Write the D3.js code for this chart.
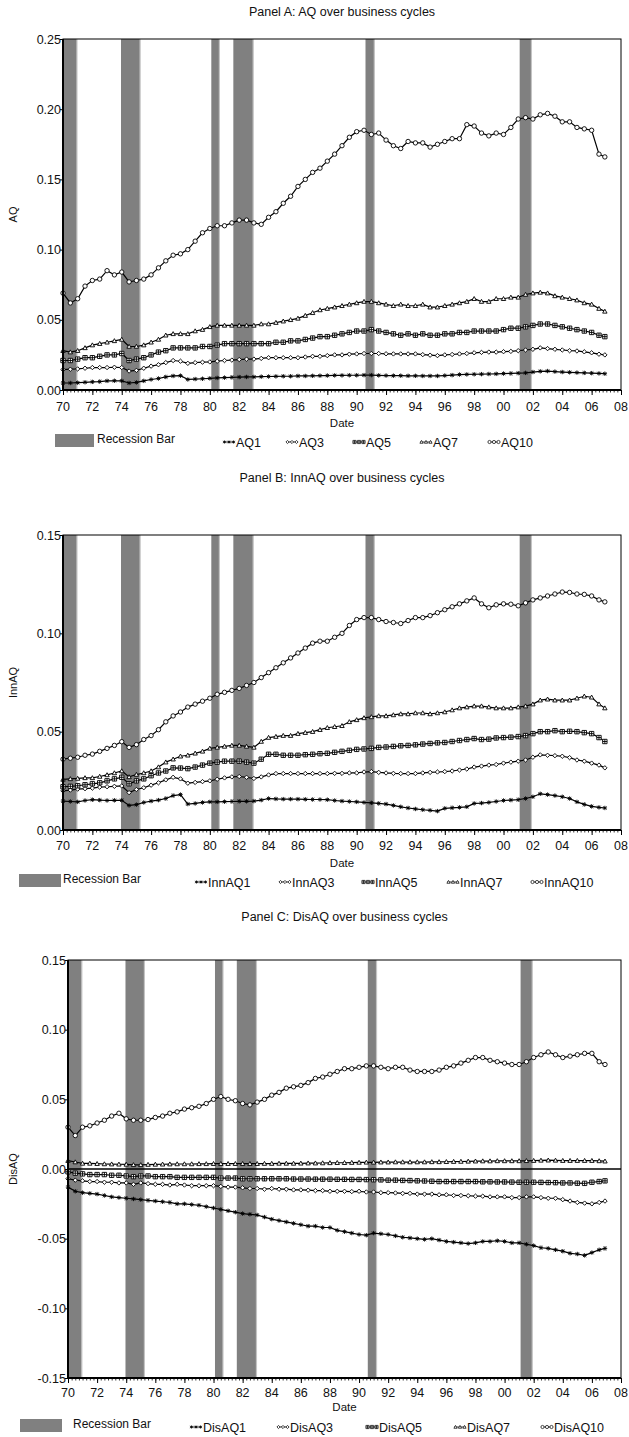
<!DOCTYPE html>
<html>
<head>
<meta charset="utf-8">
<script src="https://cdn.jsdelivr.net/npm/d3@7"></script>
<style>
  html, body { margin: 0; padding: 0; background: #fff; }
  svg text { font-family: "Liberation Sans", Arial, sans-serif; fill: #111; }
</style>
</head>
<body>
<svg id="chart" width="629" height="1437"></svg>
<script>
// ---------------- DATA ----------------
const dates = [1970,1970.5,1971,1971.5,1972,1972.5,1973,1973.5,1974,1974.5,1975,1975.5,1976,1976.5,1977,1977.5,1978,1978.5,1979,1979.5,
  1980,1980.5,1981,1981.5,1982,1982.5,1983,1983.5,1984,1984.5,1985,1985.5,1986,1986.5,1987,1987.5,1988,1988.5,1989,1989.5,
  1990,1990.5,1991,1991.5,1992,1992.5,1993,1993.5,1994,1994.5,1995,1995.5,1996,1996.5,1997,1997.5,1998,1998.5,1999,1999.5,
  2000,2000.5,2001,2001.5,2002,2002.5,2003,2003.5,2004,2004.5,2005,2005.5,2006,2006.5,2006.9];

const recessionStart = [1970.0, 1973.95, 1980.1, 1981.6, 1990.6, 2001.1];
const recessionEnd   = [1970.95, 1975.25, 1980.65, 1982.95, 1991.2, 2001.9];

const xTickYears  = [1970,1972,1974,1976,1978,1980,1982,1984,1986,1988,1990,1992,1994,1996,1998,2000,2002,2004,2006,2008];
const xTickLabels = ["70","72","74","76","78","80","82","84","86","88","90","92","94","96","98","00","02","04","06","08"];

const markerTypes = ["star","diamond","squarecross","triangle","circle"];

// Panel A
const aqNames = ["AQ1","AQ3","AQ5","AQ7","AQ10"];
const AQ1 = [.005,.005,.0052,.0055,.0058,.006,.0065,.0066,.0065,.005,.0054,.0065,.0075,.0082,.0093,.010,.0102,.0075,.0078,.008,
  .0083,.0086,.0088,.009,.0092,.0093,.0093,.0095,.0096,.0097,.0098,.0098,.010,.010,.0101,.0102,.0103,.0104,.0104,.0105,
  .0105,.0106,.0106,.0104,.0103,.0102,.0102,.0101,.0101,.0100,.0100,.0100,.0103,.0106,.011,.0111,.0112,.0113,.0114,.0115,
  .0117,.0118,.012,.0122,.0128,.0133,.0135,.0131,.0128,.0126,.0124,.0122,.012,.0118,.0116];
const AQ3 = [.0145,.0148,.015,.0155,.016,.016,.016,.0162,.016,.0135,.014,.0155,.017,.018,.0195,.021,.0205,.019,.0195,.0198,
  .020,.0205,.021,.0213,.0217,.022,.022,.0225,.023,.023,.023,.023,.023,.0235,.024,.024,.0245,.025,.025,.0255,
  .0257,.026,.026,.026,.0258,.0257,.0257,.0257,.0257,.0252,.0248,.0245,.025,.0253,.0257,.026,.0265,.0268,.027,.027,
  .0273,.0275,.028,.0285,.029,.030,.0295,.029,.0285,.028,.0278,.0272,.0265,.0255,.025];
const AQ5 = [.021,.021,.022,.023,.023,.024,.025,.025,.026,.021,.022,.023,.025,.027,.028,.030,.030,.030,.030,.031,
  .031,.032,.033,.033,.033,.033,.033,.033,.033,.034,.034,.035,.035,.036,.037,.038,.038,.039,.040,.041,
  .042,.042,.043,.042,.041,.040,.039,.040,.039,.040,.039,.039,.040,.040,.041,.041,.042,.042,.042,.042,
  .043,.044,.044,.045,.046,.047,.047,.046,.045,.044,.043,.042,.041,.039,.038];
const AQ7 = [.028,.027,.028,.030,.032,.033,.034,.035,.036,.031,.031,.032,.034,.036,.039,.040,.040,.040,.042,.043,
  .045,.046,.046,.046,.046,.046,.046,.047,.047,.048,.049,.050,.051,.053,.055,.057,.058,.059,.060,.061,
  .062,.063,.063,.062,.061,.060,.061,.060,.060,.061,.059,.059,.060,.061,.062,.063,.065,.063,.063,.065,
  .065,.066,.066,.068,.069,.0695,.069,.067,.066,.065,.064,.062,.061,.058,.056];
const AQ10 = [.069,.062,.065,.074,.078,.079,.085,.082,.084,.077,.078,.079,.082,.087,.092,.096,.097,.100,.106,.112,
  .115,.117,.117,.119,.121,.121,.119,.118,.123,.127,.133,.138,.145,.150,.155,.158,.163,.168,.174,.180,
  .184,.185,.182,.183,.178,.174,.172,.177,.176,.176,.173,.175,.177,.179,.179,.189,.188,.183,.181,.183,
  .182,.187,.193,.194,.193,.196,.197,.195,.191,.191,.187,.186,.185,.168,.166];

// Panel B
const innNames = ["InnAQ1","InnAQ3","InnAQ5","InnAQ7","InnAQ10"];
const InnAQ1 = [.0147,.0145,.0143,.015,.0154,.0152,.015,.0151,.0151,.0125,.0129,.014,.0147,.0152,.016,.0175,.018,.0132,.0135,.014,
  .0143,.0143,.0144,.0145,.0146,.0146,.0147,.0152,.016,.0158,.0157,.0157,.0157,.0156,.0155,.0155,.0154,.015,.0147,.0145,
  .0143,.014,.0138,.0135,.0132,.0125,.0118,.0112,.0107,.0103,.010,.0096,.011,.0113,.0115,.0118,.0135,.0137,.014,.0145,
  .015,.0152,.0154,.016,.0169,.0184,.018,.0175,.0169,.016,.0143,.013,.012,.0115,.0112];
const InnAQ3 = [.0199,.0203,.0208,.021,.0213,.0218,.022,.0222,.0224,.019,.0206,.0215,.0228,.024,.0255,.0268,.026,.0238,.0242,.0246,
  .025,.0258,.0265,.027,.0272,.0268,.0262,.027,.028,.0287,.0287,.0287,.0287,.0287,.0287,.0287,.0287,.0288,.0288,.029,
  .029,.0295,.0297,.0293,.029,.0288,.0287,.0287,.0287,.029,.0293,.0295,.0297,.030,.0305,.031,.032,.0325,.033,.0333,
  .034,.0345,.035,.0356,.037,.0382,.038,.0378,.0375,.0368,.0356,.035,.034,.033,.0316];
const InnAQ5 = [.022,.0222,.0225,.023,.0235,.024,.025,.026,.0268,.0235,.025,.026,.0276,.029,.030,.0316,.0315,.0312,.032,.033,
  .034,.0345,.035,.035,.035,.0345,.034,.036,.0385,.0385,.038,.038,.038,.0383,.0385,.0388,.039,.0395,.040,.0405,
  .041,.0412,.0415,.042,.0422,.0425,.0428,.043,.0433,.0437,.044,.0443,.0445,.045,.0455,.046,.0465,.046,.0462,.0468,
  .047,.0472,.0475,.048,.049,.050,.050,.0505,.050,.0502,.050,.0495,.049,.047,.045];
const InnAQ7 = [.0257,.026,.0262,.0265,.0265,.0272,.028,.029,.030,.027,.0282,.029,.030,.032,.0345,.036,.0375,.038,.039,.040,
  .0415,.042,.0425,.043,.043,.0425,.042,.045,.047,.0475,.048,.048,.049,.0495,.050,.051,.052,.0525,.053,.055,
  .056,.057,.0575,.058,.058,.0585,.059,.059,.0595,.0595,.059,.0595,.060,.061,.062,.0625,.063,.063,.0625,.062,
  .062,.062,.0625,.063,.064,.066,.0665,.066,.066,.066,.067,.068,.0675,.064,.062];
const InnAQ10 = [.036,.0365,.037,.038,.0386,.040,.0415,.043,.0449,.042,.0434,.046,.048,.051,.055,.058,.060,.0625,.064,.0655,
  .067,.069,.070,.071,.072,.0735,.075,.0775,.080,.0825,.085,.0875,.090,.0925,.095,.096,.096,.098,.100,.104,
  .107,.108,.108,.107,.106,.1055,.105,.1065,.108,.108,.109,.1105,.112,.1135,.115,.1165,.118,.115,.113,.1145,
  .115,.1148,.114,.1155,.117,.118,.119,.120,.121,.1208,.120,.1198,.119,.117,.116];

// Panel C
const disNames = ["DisAQ1","DisAQ3","DisAQ5","DisAQ7","DisAQ10"];
const DisAQ1 = [-.013,-.016,-.017,-.0175,-.018,-.019,-.020,-.0205,-.021,-.0215,-.022,-.0225,-.023,-.0235,-.024,-.025,-.025,-.0255,-.026,-.027,
  -.028,-.029,-.030,-.031,-.032,-.0325,-.033,-.0345,-.036,-.037,-.038,-.039,-.040,-.041,-.041,-.042,-.042,-.044,-.045,-.046,
  -.047,-.0475,-.046,-.0465,-.047,-.048,-.049,-.0495,-.050,-.0505,-.050,-.051,-.052,-.0525,-.053,-.0535,-.053,-.052,-.052,-.0515,
  -.052,-.053,-.053,-.054,-.055,-.0565,-.057,-.058,-.059,-.0605,-.061,-.062,-.060,-.058,-.057];
const DisAQ3 = [-.007,-.008,-.0085,-.009,-.009,-.0095,-.0095,-.010,-.010,-.011,-.010,-.0105,-.011,-.011,-.0115,-.011,-.0115,-.012,-.012,-.012,
  -.012,-.0125,-.013,-.013,-.0135,-.014,-.014,-.0145,-.014,-.0145,-.0145,-.015,-.015,-.0152,-.0155,-.0155,-.016,-.016,-.016,-.0162,
  -.016,-.0165,-.0165,-.017,-.017,-.0172,-.0175,-.0175,-.018,-.018,-.018,-.0185,-.0185,-.019,-.019,-.0192,-.0195,-.0195,-.020,-.020,
  -.020,-.0205,-.0205,-.020,-.020,-.0205,-.021,-.021,-.022,-.023,-.024,-.0245,-.025,-.024,-.023];
const DisAQ5 = [-.002,-.003,-.0035,-.004,-.004,-.004,-.0045,-.0045,-.005,-.0055,-.005,-.005,-.0055,-.0055,-.0055,-.006,-.006,-.006,-.006,-.006,
  -.006,-.0065,-.0065,-.0065,-.007,-.007,-.007,-.007,-.007,-.007,-.007,-.0072,-.0072,-.0072,-.0073,-.0073,-.0073,-.0074,-.0074,-.0075,
  -.0075,-.0076,-.0077,-.0078,-.008,-.008,-.0082,-.0083,-.0085,-.0086,-.0088,-.009,-.009,-.009,-.009,-.009,-.009,-.0092,-.0092,-.0093,
  -.0093,-.0094,-.0095,-.0095,-.0095,-.0096,-.0097,-.0098,-.010,-.010,-.0102,-.0103,-.0095,-.009,-.0085];
const DisAQ7 = [.006,.005,.004,.004,.0038,.0036,.0035,.0034,.0033,.003,.003,.0032,.0033,.0034,.0035,.0036,.0036,.0036,.0037,.0037,
  .0038,.0038,.0038,.0038,.0038,.0038,.0038,.0039,.0039,.004,.004,.004,.0041,.0042,.0042,.0043,.0044,.0045,.0045,.0046,
  .0047,.0048,.0048,.0049,.0049,.005,.005,.005,.005,.005,.0051,.0051,.0052,.0053,.0054,.0055,.0056,.0057,.0057,.0058,
  .0058,.0058,.0058,.0059,.006,.0062,.0063,.0062,.006,.006,.006,.006,.006,.0058,.0056];
const DisAQ10 = [.030,.024,.030,.031,.033,.035,.038,.040,.036,.035,.035,.0355,.037,.038,.040,.041,.043,.044,.045,.047,
  .050,.052,.050,.049,.047,.046,.048,.050,.053,.055,.058,.059,.060,.062,.065,.066,.068,.070,.072,.072,
  .073,.074,.074,.073,.072,.073,.073,.071,.070,.070,.070,.071,.073,.074,.076,.078,.080,.080,.078,.077,
  .076,.075,.075,.077,.080,.082,.084,.082,.080,.081,.082,.083,.083,.077,.075];

// ---------------- LAYOUT ----------------
const panels = [
  { title: "Panel A: AQ over business cycles", ylabel: "AQ", names: aqNames,
    series: [AQ1, AQ3, AQ5, AQ7, AQ10], yDomain: [0, 0.25], yTicks: [0, .05, .10, .15, .20, .25],
    left: 63, right: 621, top: 39, bottom: 390, titleY: 16, tickY: 411, dateY: 427, legendY: 440,
    swatch: [55, 94], recText: 97, itemX: [223, 286, 353, 420, 488], zero: false },
  { title: "Panel B: InnAQ over business cycles", ylabel: "InnAQ", names: innNames,
    series: [InnAQ1, InnAQ3, InnAQ5, InnAQ7, InnAQ10], yDomain: [0, 0.15], yTicks: [0, .05, .10, .15],
    left: 63, right: 621, top: 535, bottom: 830, titleY: 482, tickY: 850, dateY: 867, legendY: 880,
    swatch: [19, 61], recText: 63, itemX: [195, 279, 362, 447, 531], zero: false },
  { title: "Panel C: DisAQ over business cycles", ylabel: "DisAQ", names: disNames,
    series: [DisAQ1, DisAQ3, DisAQ5, DisAQ7, DisAQ10], yDomain: [-0.15, 0.15], yTicks: [-.15, -.10, -.05, 0, .05, .10, .15],
    left: 68, right: 621, top: 960, bottom: 1378, titleY: 921, tickY: 1397, dateY: 1411, legendY: 1425,
    swatch: [20, 62], recText: 73, itemX: [190, 277, 366, 454, 541], zero: true }
];

const svg = d3.select("#chart");

function markerPath(type, r) {
  switch (type) {
    case "circle":
      return `M${-r},0A${r},${r} 0 1,0 ${r},0A${r},${r} 0 1,0 ${-r},0Z`;
    case "diamond":
      return `M0,${-r}L${r},0L0,${r}L${-r},0Z`;
    case "triangle":
      return `M0,${-r}L${r},${r * 0.8}L${-r},${r * 0.8}Z`;
    case "squarecross":
      return `M${-r},${-r}H${r}V${r}H${-r}Z M0,${-r}V${r} M${-r},0H${r}`;
    case "star":
      return `M${-r},0H${r} M0,${-r}V${r} M${-r*0.75},${-r*0.75}L${r*0.75},${r*0.75} M${-r*0.75},${r*0.75}L${r*0.75},${-r*0.75}`;
  }
}
const markerFill = t => (t === "star" ? "none" : "#fff");

panels.forEach(p => {
  const g = svg.append("g");
  const x = d3.scaleLinear().domain([1970, 2008]).range([p.left, p.right]);
  const y = d3.scaleLinear().domain(p.yDomain).range([p.bottom, p.top]);

  // title
  g.append("text").attr("x", (p.left + p.right) / 2).attr("y", p.titleY)
    .attr("text-anchor", "middle").attr("font-size", 12.5).text(p.title);

  // recession bars
  recessionStart.forEach((s, i) => {
    const x0 = x(s), x1 = x(recessionEnd[i]);
    g.append("rect").attr("x", x0).attr("y", p.top).attr("width", x1 - x0)
      .attr("height", p.bottom - p.top).attr("fill", "#808080");
    g.append("line").attr("x1", x1).attr("x2", x1).attr("y1", p.top).attr("y2", p.bottom)
      .attr("stroke", "#c4c4c4").attr("stroke-width", 1.2);
  });

  // zero line
  if (p.zero) {
    g.append("line").attr("x1", p.left).attr("x2", p.right).attr("y1", y(0)).attr("y2", y(0))
      .attr("stroke", "#000").attr("stroke-width", 1.3);
  }

  // series
  const line = d3.line().x((d, i) => x(dates[i])).y(d => y(d));
  p.series.forEach((vals, si) => {
    const type = markerTypes[si];
    g.append("path").datum(vals).attr("d", line).attr("fill", "none")
      .attr("stroke", "#000").attr("stroke-width", 1.2);
    g.selectAll(null).data(vals).enter().append("path")
      .attr("transform", (d, i) => `translate(${x(dates[i])},${y(d)})`)
      .attr("d", markerPath(type, 2.2))
      .attr("fill", markerFill(type)).attr("stroke", "#000").attr("stroke-width", 0.9);
  });

  // frame
  g.append("rect").attr("x", p.left).attr("y", p.top).attr("width", p.right - p.left)
    .attr("height", p.bottom - p.top).attr("fill", "none").attr("stroke", "#000").attr("stroke-width", 1);
  g.append("line").attr("x1", p.left).attr("x2", p.left).attr("y1", p.top).attr("y2", p.bottom)
    .attr("stroke", "#000").attr("stroke-width", 2);
  g.append("line").attr("x1", p.left).attr("x2", p.right).attr("y1", p.bottom).attr("y2", p.bottom)
    .attr("stroke", "#000").attr("stroke-width", 2);

  // x axis ticks
  const xAxisMinor = d3.axisBottom(x).tickValues(d3.range(1970, 2008.01, 0.25)).tickSize(2.5).tickFormat("");
  g.append("g").attr("transform", `translate(0,${p.bottom})`).call(xAxisMinor)
    .call(a => a.select(".domain").remove())
    .call(a => a.selectAll("line").attr("stroke-width", 0.8));
  const xAxisMajor = d3.axisBottom(x).tickValues(xTickYears).tickSize(5).tickFormat("");
  g.append("g").attr("transform", `translate(0,${p.bottom})`).call(xAxisMajor)
    .call(a => a.select(".domain").remove());
  xTickYears.forEach((yr, i) => {
    g.append("text").attr("x", x(yr)).attr("y", p.tickY).attr("text-anchor", "middle")
      .attr("font-size", 12.5).text(xTickLabels[i]);
  });
  g.append("text").attr("x", (p.left + p.right) / 2).attr("y", p.dateY).attr("text-anchor", "middle")
    .attr("font-size", 11.5).text("Date");

  // y axis
  const yAxis = d3.axisLeft(y).tickValues(p.yTicks).tickSize(3).tickFormat(v => v.toFixed(2));
  g.append("g").attr("transform", `translate(${p.left},0)`).call(yAxis)
    .call(a => a.select(".domain").remove())
    .call(a => a.selectAll("text").attr("font-size", 12.5).attr("x", -2).attr("fill", "#111")
      .style("font-family", '"Liberation Sans", Arial, sans-serif'));
  g.append("text").attr("transform", `translate(17,${(p.top + p.bottom) / 2}) rotate(-90)`)
    .attr("text-anchor", "middle").attr("font-size", 11).text(p.ylabel);

  // legend
  g.append("rect").attr("x", p.swatch[0]).attr("y", p.legendY - 6).attr("width", p.swatch[1] - p.swatch[0])
    .attr("height", 13).attr("fill", "#808080");
  g.append("text").attr("x", p.recText).attr("y", p.legendY + 3).attr("font-size", 12).text("Recession Bar");
  p.names.forEach((nm, si) => {
    const type = markerTypes[si];
    const lx = p.itemX[si], ly = p.legendY + 2;
    g.append("line").attr("x1", lx).attr("x2", lx + 12).attr("y1", ly).attr("y2", ly)
      .attr("stroke", "#000").attr("stroke-width", 0.8);
    [lx + 1.5, lx + 6, lx + 10.5].forEach(mx => {
      g.append("path").attr("transform", `translate(${mx},${ly})`).attr("d", markerPath(type, 1.6))
        .attr("fill", markerFill(type)).attr("stroke", "#000").attr("stroke-width", 0.7);
    });
    g.append("text").attr("x", lx + 13).attr("y", p.legendY + 7).attr("font-size", 12.5).text(nm);
  });
});
</script>
</body>
</html>
